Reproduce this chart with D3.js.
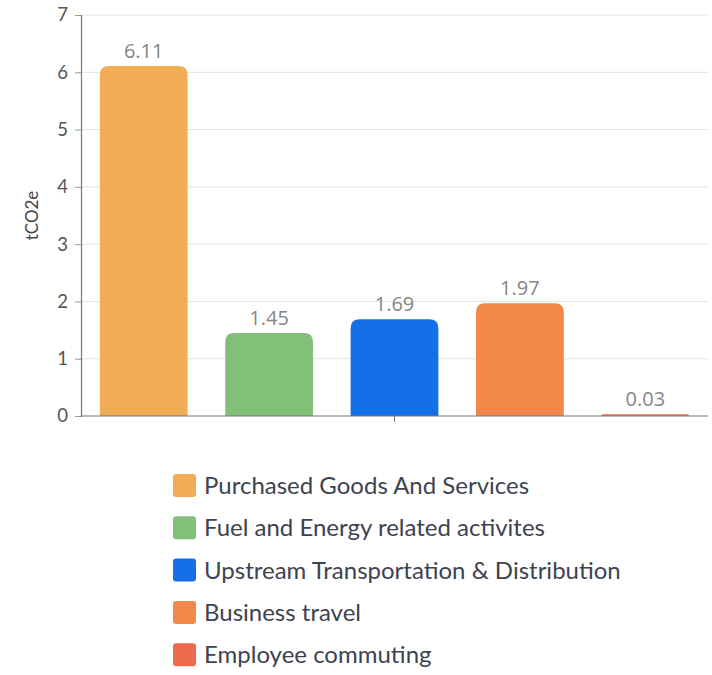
<!DOCTYPE html>
<html>
<head>
<meta charset="utf-8">
<script src="https://cdn.jsdelivr.net/npm/d3@7"></script>
<style>
  html, body { margin: 0; padding: 0; background: #fff; }
  svg { display: block; font-family: Lato, "Open Sans", sans-serif; }
</style>
</head>
<body>
<svg id="chart" width="712" height="675"></svg>
<script>
// Emission categories and their totals (tCO2e)
const categories = [
  "Purchased Goods And Services",
  "Fuel and Energy related activites",
  "Upstream Transportation & Distribution",
  "Business travel",
  "Employee commuting"
];
const values = [6.11, 1.45, 1.69, 1.97, 0.03];
const colors = ["#F0AD56", "#82C07A", "#1570E8", "#F2874A", "#F06A4F"];
const yTicks = [0, 1, 2, 3, 4, 5, 6, 7];
const yLabel = "tCO2e";

const svg = d3.select("#chart");
const plot = { left: 81, right: 708, top: 15, bottom: 416 };

const x = d3.scaleBand()
  .domain(categories)
  .range([plot.left, plot.right])
  .paddingInner(0.3)
  .paddingOuter(0.15);

const y = d3.scaleLinear()
  .domain([0, 7])
  .range([plot.bottom, plot.top]);

// horizontal gridlines
svg.append("g")
  .selectAll("line")
  .data(yTicks.filter(t => t > 0))
  .join("line")
  .attr("x1", plot.left).attr("x2", plot.right)
  .attr("y1", d => y(d)).attr("y2", d => y(d))
  .attr("stroke", "#e3e3e3").attr("stroke-width", 1);

// y axis
const yAxis = svg.append("g")
  .attr("transform", `translate(${plot.left},0)`)
  .call(d3.axisLeft(y).tickValues(yTicks).tickSize(6).tickPadding(7).tickFormat(d3.format("d")));
yAxis.select(".domain").attr("stroke", "#777").attr("stroke-width", 1.2);
yAxis.selectAll(".tick line").attr("stroke", "#999");
yAxis.selectAll(".tick text")
  .attr("fill", "#555").style("font-size", "18.5px").style("font-family", "Lato, sans-serif");

// y axis title
svg.append("text")
  .attr("transform", `translate(32,${(plot.top + plot.bottom) / 2}) rotate(-90)`)
  .attr("text-anchor", "middle")
  .attr("dy", "0.35em")
  .attr("fill", "#444")
  .style("font-size", "17px")
  .text(yLabel);

// rounded-top bar path
function barPath(x0, w, yTop, yBase, r) {
  const h = yBase - yTop;
  const rr = Math.min(r, h, w / 2);
  return `M${x0},${yBase}V${yTop + rr}Q${x0},${yTop} ${x0 + rr},${yTop}` +
         `H${x0 + w - rr}Q${x0 + w},${yTop} ${x0 + w},${yTop + rr}V${yBase}Z`;
}

const data = categories.map((c, i) => ({ c, v: values[i], color: colors[i] }));

svg.append("g")
  .selectAll("path")
  .data(data)
  .join("path")
  .attr("d", d => barPath(x(d.c), x.bandwidth(), y(d.v), y(0), 9))
  .attr("fill", d => d.color);

// value labels
svg.append("g")
  .selectAll("text")
  .data(data)
  .join("text")
  .attr("x", d => x(d.c) + x.bandwidth() / 2)
  .attr("y", d => y(d.v) - 8)
  .attr("text-anchor", "middle")
  .attr("fill", "#858585")
  .style("font-family", "'Open Sans', sans-serif")
  .style("font-size", "20px")
  .text(d => d3.format(".2f")(d.v));

// x axis baseline with a single centre tick
svg.append("line")
  .attr("x1", plot.left).attr("x2", plot.right)
  .attr("y1", y(0)).attr("y2", y(0))
  .attr("stroke", "#777").attr("stroke-width", 1.2);
const midCat = categories[Math.floor(categories.length / 2)];
svg.append("line")
  .attr("x1", x(midCat) + x.bandwidth() / 2).attr("x2", x(midCat) + x.bandwidth() / 2)
  .attr("y1", y(0)).attr("y2", y(0) + 6)
  .attr("stroke", "#777");

// legend
const legend = svg.append("g").attr("transform", "translate(173,474)");
const rows = legend.selectAll("g")
  .data(data)
  .join("g")
  .attr("transform", (d, i) => `translate(0,${i * 42.3})`);
rows.append("rect")
  .attr("width", 23).attr("height", 23).attr("rx", 3)
  .attr("fill", d => d.color);
rows.append("text")
  .attr("x", 31).attr("y", 11.5)
  .attr("dy", "0.35em")
  .attr("fill", "#3d4350")
  .style("font-size", "24px")
  .text(d => d.c);
</script>
</body>
</html>
